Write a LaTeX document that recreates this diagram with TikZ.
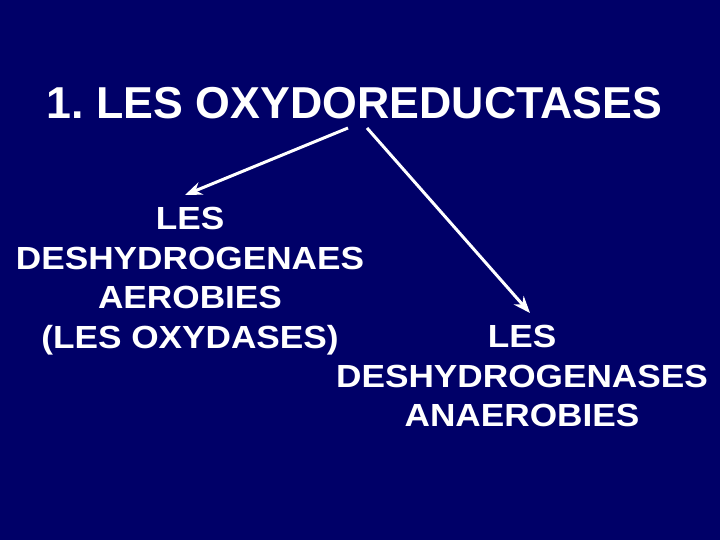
\documentclass[tikz,border=0pt]{standalone}
\usepackage{fontspec}
\setmainfont{Liberation Sans}
\newfontfamily\largefont[FakeStretch=1.1]{Liberation Sans}
\usetikzlibrary{arrows.meta}
\definecolor{fondbleu}{RGB}{0,0,104}

\begin{document}
\begin{tikzpicture}[x=1pt,y=-1pt,
   titre/.style={text=white,inner sep=0pt,font=\frenchspacing\fontsize{44.7}{50}\selectfont\bfseries},
   bloc/.style={text=white,inner sep=0pt,align=center,font=\largefont\fontsize{32}{39.5}\selectfont\bfseries},
   fleche/.style={-{Stealth[length=17pt,width=13pt]},draw=white,line width=3pt}]
   \fill[fondbleu] (0,0) rectangle (720,540);

   \node[titre,anchor=base] (titre) at (354.5,119) {1. LES OXYDOREDUCTASES};

   \node[bloc,anchor=north] (aerobies) at (190,207) {LES\\DESHYDROGENAES\\AEROBIES\\(LES OXYDASES)};
   \node[bloc,anchor=north] (anaerobies) at (522,325) {LES\\DESHYDROGENASES\\ANAEROBIES};

   \coordinate (depart1) at (348,128);
   \coordinate (depart2) at (367,128);
   \coordinate (fin1) at (185,195);
   \coordinate (fin2) at (530,313);

   \draw[fleche] (depart1) -- (fin1);
   \draw[fleche] (depart2) -- (fin2);
\end{tikzpicture}
\end{document}
